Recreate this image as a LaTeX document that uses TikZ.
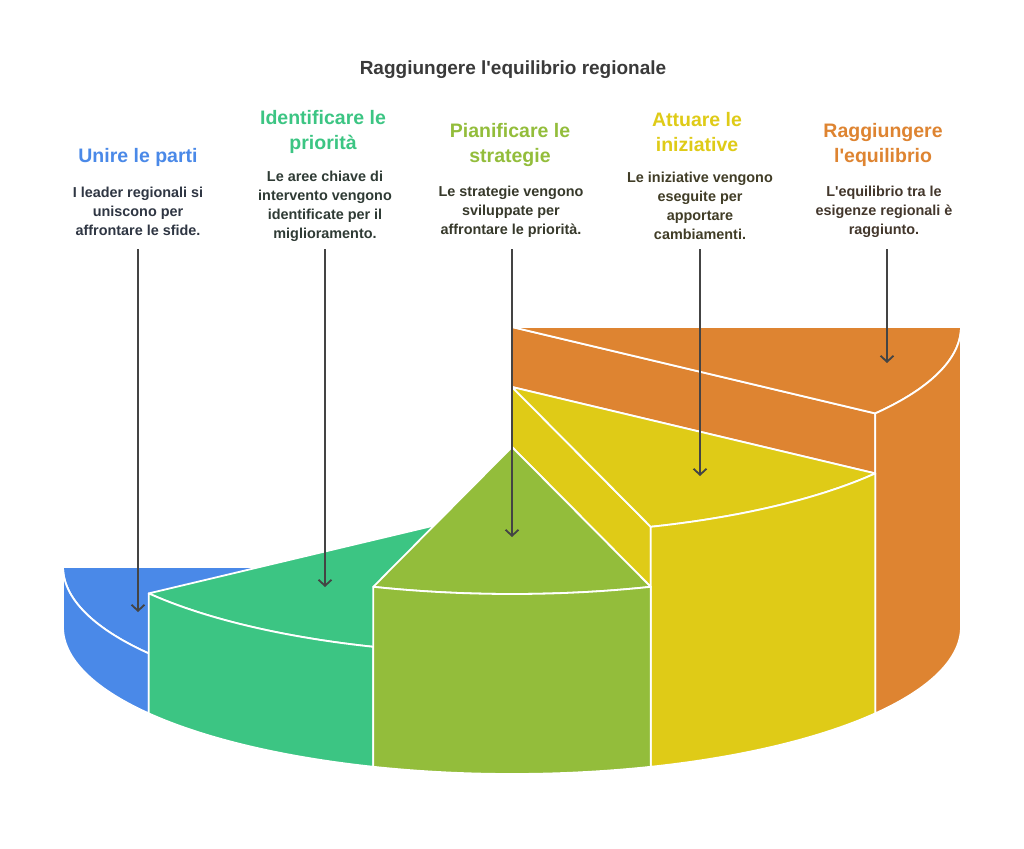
\documentclass[tikz,border=0pt]{standalone}
\usepackage{fontspec}
\setmainfont{Liberation Sans}
\usetikzlibrary{arrows.meta}
\definecolor{cBlue}{HTML}{4A89E8}
\definecolor{cGreen}{HTML}{3CC583}
\definecolor{cOlive}{HTML}{93BD3B}
\definecolor{cYellow}{HTML}{DFCB17}
\definecolor{cOrange}{HTML}{DE8431}
\definecolor{dBlue}{HTML}{2F3643}
\definecolor{dGreen}{HTML}{2F3B35}
\definecolor{dOlive}{HTML}{37392B}
\definecolor{dYellow}{HTML}{413D27}
\definecolor{dOrange}{HTML}{43372C}
\definecolor{titlegray}{HTML}{3A3A3A}
\definecolor{arrowgray}{HTML}{444444}
\begin{document}
\begin{tikzpicture}[x=1pt,y=-1pt,
  face/.style={draw=white, line width=1.8pt, line join=round},
  arr/.style={draw=arrowgray, line width=1.8pt, -{Straight Barb[length=6pt,width=13pt]}},
  head/.style={font=\bfseries\fontsize{19.5}{25}\selectfont, align=center, inner sep=0pt},
  desc/.style={font=\bfseries\fontsize{14.4}{19}\selectfont, align=center, inner sep=0pt},
  ttl/.style={font=\bfseries\fontsize{19}{23}\selectfont, text=titlegray, inner sep=0pt}
]
\useasboundingbox[fill=white] (0,0) rectangle (1024,848);

% ---------- Orange sector (h=300, 0..36) ----------
\filldraw[face, fill=cOrange] (512,387) -- ({512+449*cos(36)},{387+147*sin(36)}) -- ({512+449*cos(36)},{327+147*sin(36)}) -- (512,327) -- cycle;
\filldraw[face, fill=cOrange] (512,327) -- plot[domain=0:36,samples=40] ({512+449*cos(\x)},{327+147*sin(\x)}) -- cycle;
\filldraw[face, fill=cOrange] plot[domain=0:36,samples=40] ({512+449*cos(\x)},{327+147*sin(\x)}) -- plot[domain=36:0,samples=40] ({512+449*cos(\x)},{627+147*sin(\x)}) -- cycle;

% ---------- Yellow sector (h=240, 36..72) ----------
\filldraw[face, fill=cYellow] (512,447) -- ({512+449*cos(72)},{447+147*sin(72)}) -- ({512+449*cos(72)},{387+147*sin(72)}) -- (512,387) -- cycle;
\filldraw[face, fill=cYellow] (512,387) -- plot[domain=36:72,samples=40] ({512+449*cos(\x)},{387+147*sin(\x)}) -- cycle;
\filldraw[face, fill=cYellow] plot[domain=36:72,samples=40] ({512+449*cos(\x)},{387+147*sin(\x)}) -- plot[domain=72:36,samples=40] ({512+449*cos(\x)},{627+147*sin(\x)}) -- cycle;

% ---------- Blue sector (h=60, 144..180) ----------
\filldraw[face, fill=cBlue] (512,567) -- plot[domain=144:180,samples=40] ({512+449*cos(\x)},{567+147*sin(\x)}) -- cycle;
\filldraw[face, fill=cBlue] plot[domain=144:180,samples=40] ({512+449*cos(\x)},{567+147*sin(\x)}) -- plot[domain=180:144,samples=40] ({512+449*cos(\x)},{627+147*sin(\x)}) -- cycle;

% ---------- Green sector (h=120, 108..144) ----------
\filldraw[face, fill=cGreen] (512,507) -- plot[domain=108:144,samples=40] ({512+449*cos(\x)},{507+147*sin(\x)}) -- cycle;
\filldraw[face, fill=cGreen] plot[domain=108:144,samples=40] ({512+449*cos(\x)},{507+147*sin(\x)}) -- plot[domain=144:108,samples=40] ({512+449*cos(\x)},{627+147*sin(\x)}) -- cycle;

% ---------- Olive sector (h=180, 72..108) ----------
\filldraw[face, fill=cOlive] (512,447) -- plot[domain=72:108,samples=40] ({512+449*cos(\x)},{447+147*sin(\x)}) -- cycle;
\filldraw[face, fill=cOlive] plot[domain=72:108,samples=40] ({512+449*cos(\x)},{447+147*sin(\x)}) -- plot[domain=108:72,samples=40] ({512+449*cos(\x)},{627+147*sin(\x)}) -- cycle;

% ---------- Texts ----------
\node[ttl] (title) at (513,70) {Raggiungere l\textquotesingle equilibrio regionale};

\node[head, text=cBlue] (h1) at (138,157) {Unire le parti};
\node[desc, text=dBlue] (d1) at (138,211.5) {I leader regionali si\\uniscono per\\affrontare le sfide.};

\node[head, text=cGreen] (h2) at (323,132) {Identificare le\\priorità};
\node[desc, text=dGreen] (d2) at (325,206) {Le aree chiave di\\intervento vengono\\identificate per il\\miglioramento.};

\node[head, text=cOlive] (h3) at (510,145) {Pianificare le\\strategie};
\node[desc, text=dOlive] (d3) at (511,211.5) {Le strategie vengono\\sviluppate per\\affrontare le priorità.};

\node[head, text=cYellow] (h4) at (697,132) {Attuare le\\iniziative};
\node[desc, text=dYellow] (d4) at (700,206) {Le iniziative vengono\\eseguite per\\apportare\\cambiamenti.};

\node[head, text=cOrange] (h5) at (883,145) {Raggiungere\\l\textquotesingle equilibrio};
\node[desc, text=dOrange] (d5) at (884,211.5) {L\textquotesingle equilibrio tra le\\esigenze regionali è\\raggiunto.};

% ---------- Arrows ----------
\coordinate (s1) at (138,249); \coordinate (e1) at (138,612);
\coordinate (s2) at (325,249); \coordinate (e2) at (325,587);
\coordinate (s3) at (512,249); \coordinate (e3) at (512,537);
\coordinate (s4) at (700,249); \coordinate (e4) at (700,476);
\coordinate (s5) at (887,249); \coordinate (e5) at (887,363);
\draw[arr] (s1) -- (e1);
\draw[arr] (s2) -- (e2);
\draw[arr] (s3) -- (e3);
\draw[arr] (s4) -- (e4);
\draw[arr] (s5) -- (e5);
\end{tikzpicture}
\end{document}
